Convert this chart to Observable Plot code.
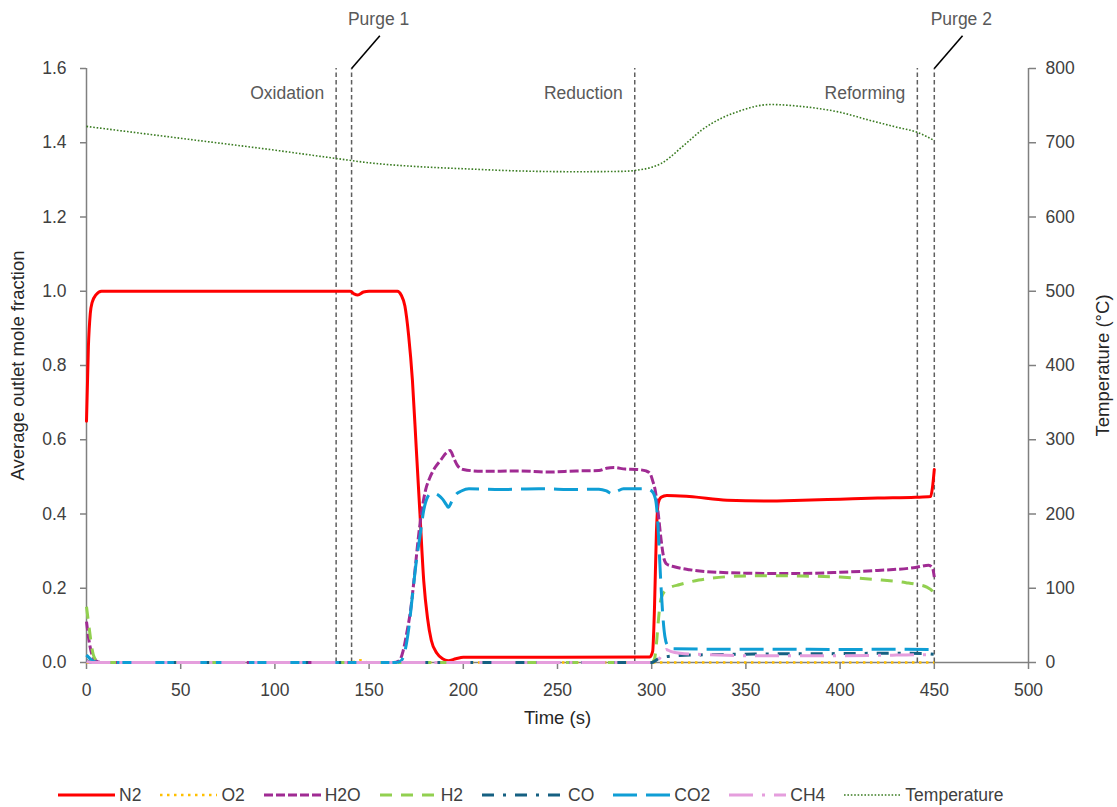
<!DOCTYPE html>
<html>
<head>
<meta charset="utf-8">
<script src="https://cdn.jsdelivr.net/npm/d3@7"></script>
<script src="https://cdn.jsdelivr.net/npm/@observablehq/plot@0.6"></script>
<style>
  body { margin: 0; background: #fff; font-family: 'Liberation Sans', Arial, sans-serif; }
  #legend { display: flex; align-items: center; height: 32px; margin-top: 4px; padding-left: 58px; font-size: 17.5px; color: #404040; }
  #legend .item { display: flex; align-items: center; margin-right: 19px; }
  #legend .item span { margin-left: 4px; }
</style>
</head>
<body>
<div id="chart"></div>
<div id="legend"></div>
<script>
// ---------- data (time s, value) ----------
const N2 = [[0,0.65],[1,0.85],[2,0.94],[3,0.97],[5,0.99],[8,1.0],[140,1.0],[142,0.993],[144,0.99],[147,0.998],[150,1.0],[165,1.0],[167,0.99],[169,0.96],[171,0.88],[173,0.76],[175,0.58],[177,0.40],[179,0.22],[181,0.12],[183,0.06],[186,0.025],[189,0.01],[192,0.005],[196,0.01],[200,0.014],[250,0.014],[299,0.015],[300.5,0.03],[301.5,0.15],[302.5,0.35],[303.5,0.43],[305,0.445],[308,0.45],[320,0.447],[340,0.437],[360,0.435],[380,0.437],[400,0.44],[420,0.443],[440,0.445],[448,0.447],[449,0.47],[450,0.52]];
const O2 = [[0,0],[140,0],[143,0.003],[145,0.006],[147,0.004],[150,0],[450,0]];
const H2O = [[0,0.11],[1,0.07],[2,0.04],[3,0.02],[5,0.005],[8,0],[163,0],[166,0.005],[168,0.03],[170,0.08],[172,0.14],[174,0.23],[176,0.33],[178,0.41],[180,0.465],[182,0.495],[185,0.525],[188,0.545],[191,0.565],[193,0.571],[195,0.55],[197,0.53],[200,0.52],[210,0.515],[230,0.516],[245,0.513],[260,0.516],[272,0.517],[276,0.523],[280,0.525],[286,0.521],[292,0.52],[297,0.516],[299,0.51],[300.5,0.49],[302,0.46],[303.5,0.40],[305,0.33],[306.5,0.28],[308,0.265],[312,0.258],[320,0.25],[340,0.242],[360,0.24],[380,0.24],[400,0.243],[420,0.248],[440,0.256],[447,0.262],[449,0.255],[450,0.23]];
const H2 = [[0,0.15],[1,0.11],[2,0.07],[3,0.035],[4,0.015],[6,0.003],[8,0],[300,0],[301.5,0.01],[302.5,0.05],[303.5,0.11],[304.5,0.16],[306,0.185],[309,0.2],[315,0.21],[325,0.222],[340,0.231],[360,0.234],[380,0.233],[400,0.23],[420,0.223],[435,0.215],[441,0.21],[446,0.203],[449,0.192],[450,0.18]];
const CO = [[0,0.005],[3,0],[300,0],[302,0.005],[304,0.012],[307,0.015],[312,0.018],[330,0.021],[360,0.023],[400,0.024],[430,0.025],[445,0.024],[450,0.022]];
const CO2 = [[0,0.02],[2,0.01],[4,0.002],[6,0],[164,0],[167,0.005],[169,0.03],[171,0.09],[173,0.18],[175,0.27],[177,0.34],[179,0.41],[181,0.445],[183,0.455],[185,0.455],[187,0.45],[189,0.44],[191,0.425],[192,0.418],[194,0.435],[196,0.452],[199,0.462],[203,0.468],[220,0.466],[240,0.468],[260,0.466],[272,0.467],[276,0.462],[279,0.454],[282,0.462],[285,0.468],[290,0.468],[297,0.468],[300,0.462],[302,0.44],[303.2,0.38],[304,0.3],[305,0.2],[306,0.12],[307,0.07],[308.5,0.045],[311,0.037],[330,0.036],[360,0.036],[400,0.035],[430,0.036],[447,0.035]];
const CH4 = [[0,0.003],[3,0],[300,0],[302,0.003],[304,0.01],[306,0.025],[307.5,0.035],[310,0.03],[315,0.025],[330,0.021],[360,0.018],[400,0.018],[430,0.02],[445,0.021],[450,0.02]];
const TEMPERATURE = [[0,722],[50,706],[100,690],[132,679],[150,673],[175,668],[200,665],[230,662],[260,661],[285,661.5],[292,663],[300,667],[305,672],[310,681],[315,692],[320,703],[326,716],[337,733],[347,743],[355,749],[363,751.5],[379,749],[400,741],[416,730],[430,721],[441,714],[450,703]];

const seriesNames = ["N2","O2","H2O","H2","CO","CO2","CH4","Temperature"];
const seriesData = [N2, O2, H2O, H2, CO, CO2, CH4, TEMPERATURE];

const xTicks = [0,50,100,150,200,250,300,350,400,450,500];
const yTicks = [0,0.2,0.4,0.6,0.8,1.0,1.2,1.4,1.6];
const tempTicks = [0,100,200,300,400,500,600,700,800];

const phaseLineTimes = [132.5, 140.7, 291, 441, 450];
const phaseNames = ["Oxidation","Reduction","Reforming"];
const phaseNameTimes = [132.5, 291, 441];
const purgeNames = ["Purge 1","Purge 2"];
const purgeTimes = [140.7, 450];

// ---------- styles ----------
const T_TO_Y = 1.6 / 800;
const styles = {
  N2:          {stroke: "#FF0000", strokeWidth: 3, dash: null},
  O2:          {stroke: "#FFC000", strokeWidth: 2.5, dash: "2.5,4.5"},
  H2O:         {stroke: "#A02B93", strokeWidth: 3, dash: "9,3"},
  H2:          {stroke: "#92D050", strokeWidth: 3, dash: "12,9"},
  CO:          {stroke: "#156082", strokeWidth: 3, dash: "12,9,3,9"},
  CO2:         {stroke: "#0F9ED5", strokeWidth: 3, dash: "24,9"},
  CH4:         {stroke: "#E59EDD", strokeWidth: 3, dash: "24,9,3,9"},
  Temperature: {stroke: "#3A7C22", strokeWidth: 1.6, dash: "1.6,1.8"}
};

const lineMarks = seriesNames.map((name, i) => {
  const s = styles[name];
  const isT = name === "Temperature";
  return Plot.line(seriesData[i], {
    x: d => d[0],
    y: d => isT ? d[1] * T_TO_Y : d[1],
    stroke: s.stroke, strokeWidth: s.strokeWidth,
    strokeDasharray: s.dash || undefined,
    strokeLinecap: s.dash ? "butt" : "round",
    curve: "monotone-x"
  });
});

const axisGrey = "#808080";
const textCol = "#404040";

const chart = Plot.plot({
  width: 1117, height: 775,
  marginLeft: 86, marginRight: 89, marginTop: 68, marginBottom: 113,
  style: {fontFamily: "'Liberation Sans', Arial, sans-serif", fontSize: "17.5px", color: textCol, background: "#fff"},
  x: {domain: [0, 500]},
  y: {domain: [0, 1.6]},
  marks: [
    Plot.axisX({ticks: xTicks, tickSize: 7, tickPadding: 14, stroke: axisGrey, strokeWidth: 1.5, fill: textCol, label: null, tickFormat: d => String(d)}),
    Plot.axisY({ticks: yTicks, anchor: "left", tickSize: 6, tickPadding: 14, stroke: axisGrey, strokeWidth: 1.5, fill: textCol, label: null, tickFormat: d3.format(".1f")}),
    Plot.axisY({ticks: tempTicks.map(v => v * T_TO_Y), anchor: "right", tickSize: 7, tickPadding: 10, stroke: axisGrey, strokeWidth: 1.5, fill: textCol, label: null, tickFormat: d => String(Math.round(d / T_TO_Y))}),
    Plot.ruleX([0, 500], {stroke: axisGrey, strokeWidth: 1.5}),
    Plot.ruleY([0], {stroke: axisGrey, strokeWidth: 1.5}),
    Plot.ruleX(phaseLineTimes, {y1: 0, y2: 1.6, stroke: "#5f5f5f", strokeWidth: 1.5, strokeDasharray: "4.5,3"}),
    Plot.text(phaseNames, {x: (d, i) => phaseNameTimes[i], y: 1.533, textAnchor: "end", dx: -12, fill: "#595959", fontSize: 17.5}),
    Plot.link(purgeTimes, {x1: d => d, y1: 1.6, x2: d => d + 15, y2: 1.688, stroke: "#000", strokeWidth: 1.6}),
    Plot.text(purgeNames, {x: (d, i) => purgeTimes[i], y: 1.6, dx: 27, dy: -49, fill: "#595959", fontSize: 17.5}),
    ...lineMarks,
    Plot.text(["Time (s)"], {frameAnchor: "bottom", dy: 61, fill: "#262626", fontSize: 18.5}),
    Plot.text(["Average outlet mole fraction"], {frameAnchor: "left", textAnchor: "middle", dx: -68, rotate: -90, fill: "#262626", fontSize: 18.5}),
    Plot.text(["Temperature (°C)"], {frameAnchor: "right", textAnchor: "middle", dx: 75, rotate: -90, fill: "#262626", fontSize: 18.5})
  ]
});
document.getElementById("chart").appendChild(chart);

// ---------- legend ----------
const legend = document.getElementById("legend");
seriesNames.forEach(name => {
  const s = styles[name];
  const w = name === "CO" ? 82 : 57;
  const item = document.createElement("div");
  item.className = "item";
  item.innerHTML = `<svg width="${w}" height="12"><line x1="0" y1="6" x2="${w}" y2="6" stroke="${s.stroke}" stroke-width="${s.strokeWidth}" ${s.dash ? `stroke-dasharray="${s.dash}"` : ""}/></svg><span>${name}</span>`;
  legend.appendChild(item);
});
</script>
</body>
</html>
